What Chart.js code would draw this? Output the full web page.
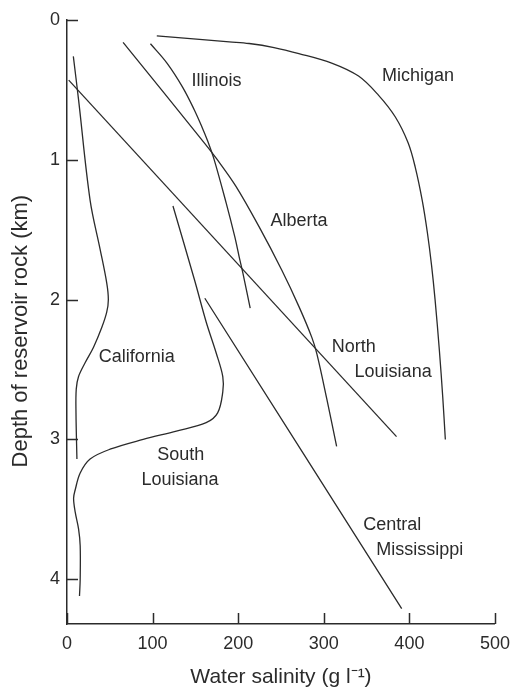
<!DOCTYPE html>
<html>
<head>
<meta charset="utf-8">
<script src="https://cdn.jsdelivr.net/npm/chart.js@4.4.1/dist/chart.umd.min.js"></script>
<style>
  html, body { margin: 0; padding: 0; background: #fff; }
  #wrap { width: 519px; height: 695px; position: relative; }
</style>
</head>
<body>
<div id="wrap"><canvas id="chart"></canvas></div>
<script>
// Water salinity (g/l) against reservoir depth (km)
const michiganSal   = [104.9, 154.8, 189.6, 212.8, 241.9, 270.9, 309.2, 340.6, 363.8, 383.6, 398.6, 406.8, 415, 421, 426, 430, 435, 439, 442];
const michiganDepth = [0.114, 0.138, 0.156, 0.168, 0.197, 0.24, 0.308, 0.401, 0.537, 0.694, 0.88, 1.052, 1.29, 1.52, 1.76, 2.0, 2.36, 2.7, 3.0];

const illinoisSal   = [97.5, 117, 135, 148.5, 158, 164, 172, 186, 196, 201, 205.5, 214];
const illinoisDepth = [0.17, 0.31, 0.48, 0.64, 0.77, 0.86, 1.0, 1.31, 1.55, 1.69, 1.81, 2.06];

const albertaSal   = [65.5, 160.6, 174.5, 197.4, 224.5, 251, 271, 286, 292, 303.5, 315];
const albertaDepth = [0.16, 0.88, 0.99, 1.19, 1.48, 1.79, 2.05, 2.27, 2.39, 2.71, 3.05];

const northLouisianaSal   = [2, 385];
const northLouisianaDepth = [0.43, 2.98];

const californiaSal   = [7.4, 13.5, 27, 38.7, 46.4, 48.3, 46.4, 40.6, 31, 21.3, 13.5, 10.8, 10.5, 11.6];
const californiaDepth = [0.26, 0.57, 1.29, 1.64, 1.88, 2.0, 2.09, 2.2, 2.34, 2.45, 2.55, 2.64, 2.81, 3.14];

const southLouisianaSal   = [123.8, 149, 162.6, 174.2, 182, 182, 176, 162.6, 127.8, 89, 50.3, 27, 15.4, 9.6, 7.7, 9.6, 13.5, 15.4, 15.4, 14.6];
const southLouisianaDepth = [1.33, 1.86, 2.16, 2.38, 2.55, 2.66, 2.81, 2.88, 2.94, 3.0, 3.07, 3.14, 3.24, 3.36, 3.42, 3.52, 3.64, 3.76, 4.0, 4.12];

const centralMississippiSal   = [161, 391];
const centralMississippiDepth = [1.99, 4.21];

const xTicks = [0, 100, 200, 300, 400, 500];
const yTicks = [0, 1, 2, 3, 4];

// curve names, placed in data units
const labelText  = ['Illinois', 'Michigan', 'Alberta', 'North', 'Louisiana', 'California', 'South', 'Louisiana', 'Central', 'Mississippi'];
const labelSal   = [174.6, 410, 271, 335, 381, 81.6, 133, 132, 380, 412];
const labelDepth = [0.44, 0.40, 1.44, 2.34, 2.52, 2.41, 3.11, 3.29, 3.61, 3.79];

const INK = '#2b2b2b';
const FONT = '"Liberation Sans", Arial, Helvetica, sans-serif';

function series(sal, depth) {
  return {
    data: sal.map((s, i) => ({ x: s, y: depth[i] })),
    showLine: true,
    borderColor: INK,
    borderWidth: 1.3,
    pointRadius: 0,
    tension: 0.35,
    fill: false
  };
}

// ticks point inwards, and the curve names sit on the plot
const figureMarks = {
  id: 'figureMarks',
  afterDraw(chart) {
    const { ctx, chartArea, scales: { x, y } } = chart;
    ctx.save();
    ctx.strokeStyle = INK;
    ctx.lineWidth = 1.5;
    ctx.beginPath();
    xTicks.forEach(v => {
      const px = Math.round(x.getPixelForValue(v)) + 0.5;
      ctx.moveTo(px, chartArea.bottom);
      ctx.lineTo(px, chartArea.bottom - 11);
    });
    yTicks.forEach(v => {
      const py = Math.round(y.getPixelForValue(v)) + 0.5;
      ctx.moveTo(chartArea.left, py);
      ctx.lineTo(chartArea.left + 11, py);
    });
    ctx.stroke();

    ctx.fillStyle = INK;
    ctx.font = '18px ' + FONT;
    ctx.textAlign = 'center';
    ctx.textBaseline = 'middle';
    labelText.forEach((t, i) => {
      ctx.fillText(t, x.getPixelForValue(labelSal[i]), y.getPixelForValue(labelDepth[i]));
    });
    ctx.restore();
  }
};

new Chart(document.getElementById('chart').getContext('2d'), {
  type: 'scatter',
  data: {
    datasets: [
      series(michiganSal, michiganDepth),
      series(illinoisSal, illinoisDepth),
      series(albertaSal, albertaDepth),
      series(northLouisianaSal, northLouisianaDepth),
      series(californiaSal, californiaDepth),
      series(southLouisianaSal, southLouisianaDepth),
      series(centralMississippiSal, centralMississippiDepth)
    ]
  },
  options: {
    responsive: true,
    maintainAspectRatio: false,
    animation: false,
    layout: {
      padding: { left: 0, top: 20, right: 22, bottom: 0 }
    },
    plugins: {
      legend: { display: false },
      tooltip: { enabled: false }
    },
    scales: {
      x: {
        type: 'linear',
        min: 0,
        max: 500,
        afterBuildTicks: scale => { scale.ticks = xTicks.map(v => ({ value: v })); },
        afterFit: scale => { scale.height = 71; },
        grid: { display: false, drawTicks: false },
        border: { display: true, color: INK, width: 1.5 },
        ticks: {
          padding: 9,
          color: INK,
          maxRotation: 0,
          font: { family: FONT, size: 18 }
        },
        title: {
          display: true,
          text: 'Water salinity (g l\u207B\u00B9)',
          color: INK,
          font: { family: FONT, size: 21 },
          padding: { top: 0, bottom: 5 }
        }
      },
      y: {
        type: 'linear',
        reverse: true,
        min: 0,
        max: 4.32,
        afterBuildTicks: scale => { scale.ticks = yTicks.map(v => ({ value: v })); },
        afterFit: scale => { scale.width = 67; },
        grid: { display: false, drawTicks: false },
        border: { display: true, color: INK, width: 1.5 },
        ticks: {
          padding: 7,
          color: INK,
          font: { family: FONT, size: 18 }
        },
        title: {
          display: true,
          // trailing spaces nudge the rotated title down to where it sits in the figure
          text: 'Depth of reservoir rock (km)\u00A0\u00A0\u00A0',
          color: INK,
          font: { family: FONT, size: 22 },
          padding: { top: 8, bottom: 0 }
        }
      }
    }
  },
  plugins: [figureMarks]
});
</script>
</body>
</html>
